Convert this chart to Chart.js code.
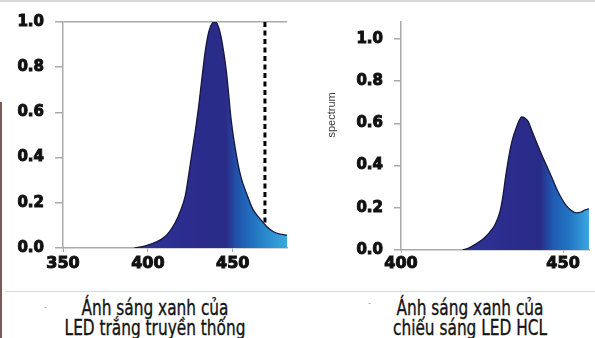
<!DOCTYPE html>
<html>
<head>
<meta charset="utf-8">
<script src="https://cdn.jsdelivr.net/npm/chart.js@4.4.1/dist/chart.umd.min.js"></script>
<style>
  html, body { margin: 0; padding: 0; }
  body { width: 595px; height: 338px; position: relative; overflow: hidden; background: #fff;
         border-top: 2px solid #d6d6d6; box-sizing: border-box; }
  .edge { position: absolute; left: 0; top: 100px; width: 2px; height: 238px; background: #7a5a58; }
  .plot { position: absolute; top: 0; height: 285px; }
  #left { left: 0; width: 300px; }
  #right { left: 300px; width: 295px; }
  .rule { position: absolute; left: 5px; right: 0; top: 289px; height: 1px; background: #d3d9e4; }
  .cap { position: absolute; top: 296px; width: 300px; margin-left: -150px; text-align: center; color: #141414;
         font-size: 22px; line-height: 20px; white-space: nowrap; transform-origin: 50% 0;
         -webkit-text-stroke: 0.35px #141414; }
  #capLeft { left: 155px; }
  #capRight { left: 470px; }
  .dot { position: absolute; color: #9a9a9a; font: 9px "Liberation Sans", sans-serif; }
</style>
</head>
<body>
<div class="edge"></div>
<div class="plot" id="left"><canvas id="leftChart" width="300" height="285"></canvas></div>
<div class="plot" id="right"><canvas id="rightChart" width="295" height="285"></canvas></div>
<div class="rule"></div>
<span class="dot" style="left:44px;top:300px">-</span>
<span class="dot" style="left:368px;top:296px">-</span>
<div class="cap" id="capLeft"></div>
<div class="cap" id="capRight"></div>
<script>
// white LED spectrum (nm, relative)
const leftWavelengths = [392, 396, 400, 405, 410, 413, 416, 419, 422, 424, 426, 428, 430, 432, 434, 436, 438, 439.5, 441, 443, 446.3, 449.2, 452.2, 455, 458, 462, 466, 470, 474, 478, 482];
const leftSpectrum    = [0, 0.005, 0.013, 0.027, 0.05, 0.075, 0.11, 0.16, 0.23, 0.32, 0.42, 0.52, 0.63, 0.76, 0.88, 0.96, 0.995, 1.0, 0.99, 0.94, 0.78, 0.56, 0.41, 0.31, 0.245, 0.17, 0.13, 0.095, 0.072, 0.061, 0.057];

// HCL LED spectrum
const rightWavelengths = [419, 421, 423.3, 425.5, 427.4, 429, 430.5, 431.5, 432.3, 433.6, 434.5, 435.6, 436.5, 437.2, 438.2, 439.2, 440.5, 441.8, 443.3, 444.9, 446.5, 448, 449.5, 451, 452.5, 454.1, 455.6, 456.8, 458];
const rightSpectrum    = [0, 0.01, 0.03, 0.055, 0.085, 0.12, 0.18, 0.26, 0.35, 0.47, 0.53, 0.58, 0.615, 0.63, 0.625, 0.61, 0.56, 0.51, 0.455, 0.40, 0.345, 0.29, 0.245, 0.21, 0.188, 0.176, 0.18, 0.19, 0.195];

// dotted marker on the white LED plot
const cutoffX = [469, 469];
const cutoffY = [1.0, 0.11];

const leftXTicks = [350, 400, 450];
const rightXTicks = [400, 450];
const yTicks = [0, 0.2, 0.4, 0.6, 0.8, 1.0];

const captions = [
  ['Ánh sáng xanh của', 'LED trắng truyền thống'],
  ['Ánh sáng xanh của', 'chiếu sáng LED HCL']
];

// captions use a narrow face, stretched to a fixed first-line width
const capFamily = '"Liberation Sans Narrow", "DejaVu Sans Condensed", "Noto Sans", sans-serif';
const measure = document.createElement('canvas').getContext('2d');
measure.font = '22px ' + capFamily;
const capScale = 147 / measure.measureText(captions[0][0]).width;
['capLeft', 'capRight'].forEach((id, i) => {
  const el = document.getElementById(id);
  el.style.fontFamily = capFamily;
  el.style.transform = 'scaleX(' + capScale + ')';
  el.innerHTML = captions[i].join('<br>');
});

const axisGrey = '#a9a9a9';

function points(xs, ys) {
  return xs.map((x, i) => ({ x: x, y: ys[i] }));
}

function spectrumFill(stops) {
  return (ctx) => {
    const chart = ctx.chart;
    const area = chart.chartArea;
    if (!area) return '#2a2c88';
    const xs = chart.scales.x;
    const g = chart.ctx.createLinearGradient(area.left, 0, area.right, 0);
    stops.forEach(([nm, color]) => {
      let p = (xs.getPixelForValue(nm) - area.left) / (area.right - area.left);
      g.addColorStop(Math.min(Math.max(p, 0), 1), color);
    });
    return g;
  };
}

function useTicks(values) {
  return (scale) => { scale.ticks = values.map(v => ({ value: v })); };
}

const tickFont = { family: 'DejaVu Sans', weight: 'bold', size: 15 };
const tickText = { color: '#111', textStrokeColor: '#111', textStrokeWidth: 1 };

function spectrumDataset(xs, ys, stops) {
  return {
    data: points(xs, ys),
    borderColor: '#17173f',
    borderWidth: 1.3,
    backgroundColor: spectrumFill(stops),
    fill: 'origin',
    pointRadius: 0,
    cubicInterpolationMode: 'monotone'
  };
}

// white LED
new Chart(document.getElementById('leftChart'), {
  type: 'line',
  data: {
    datasets: [
      spectrumDataset(leftWavelengths, leftSpectrum, [
        [392, '#30339a'], [430, '#2a2b8a'], [446, '#2a2c88'], [452, '#2150a8'],
        [458, '#1f66b9'], [470, '#2a8bcd'], [482, '#3aa9e0']
      ]),
      {
        data: points(cutoffX, cutoffY),
        borderColor: '#000',
        borderWidth: 3,
        borderDash: [5, 3.5],
        fill: false,
        pointRadius: 0
      }
    ]
  },
  options: {
    responsive: false,
    animation: false,
    layout: { padding: { top: 17, right: 13, left: 0, bottom: 0 } },
    plugins: { legend: { display: false }, tooltip: { enabled: false } },
    scales: {
      x: {
        type: 'linear', min: 350, max: 482,
        afterBuildTicks: useTicks(leftXTicks),
        afterFit: (s) => { s.height = 39; },
        border: { color: axisGrey, width: 1.5 },
        grid: { drawOnChartArea: false, tickLength: 4, color: axisGrey },
        ticks: { ...tickText, padding: 2, font: { ...tickFont, size: 16 } }
      },
      y: {
        min: 0, max: 1.0,
        afterBuildTicks: useTicks(yTicks),
        afterFit: (s) => { s.width = 63; },
        border: { color: axisGrey, width: 1.5 },
        grid: {
          tickLength: 8,
          tickColor: axisGrey,
          lineWidth: 1.5,
          color: (c) => (c.tick && c.tick.value === 1 ? axisGrey : 'rgba(0,0,0,0)')
        },
        ticks: { ...tickText, padding: 11, font: tickFont, callback: (v) => v.toFixed(1) }
      }
    }
  }
});

// rotated "spectrum" label beside the HCL axis
const spectrumLabel = {
  id: 'spectrumLabel',
  afterDraw(chart) {
    const c = chart.ctx;
    c.save();
    c.translate(32, chart.scales.y.getPixelForValue(0.64));
    c.rotate(-Math.PI / 2);
    c.font = '11px "Liberation Sans", sans-serif';
    c.fillStyle = '#3a3a3a';
    c.textAlign = 'center';
    c.textBaseline = 'middle';
    c.fillText('spectrum', 0, 0);
    c.restore();
  }
};

// HCL LED
new Chart(document.getElementById('rightChart'), {
  type: 'line',
  data: {
    datasets: [
      spectrumDataset(rightWavelengths, rightSpectrum, [
        [419, '#30339a'], [436, '#2a2b8a'], [443, '#2a2c88'], [447, '#1f5cb3'],
        [452, '#2275c2'], [458, '#3aa9e0']
      ])
    ]
  },
  options: {
    responsive: false,
    animation: false,
    layout: { padding: { top: 18, right: 6, left: 0, bottom: 0 } },
    plugins: { legend: { display: false }, tooltip: { enabled: false } },
    scales: {
      x: {
        type: 'linear', min: 400, max: 458,
        afterBuildTicks: useTicks(rightXTicks),
        afterFit: (s) => { s.height = 37; },
        border: { color: axisGrey, width: 1.5 },
        grid: { drawOnChartArea: false, tickLength: 3, color: axisGrey },
        ticks: { ...tickText, padding: 1, font: { ...tickFont, size: 16 } }
      },
      y: {
        min: 0, max: 1.08,
        afterBuildTicks: useTicks(yTicks),
        afterFit: (s) => { s.width = 101; },
        border: { color: axisGrey, width: 1.5 },
        grid: { drawOnChartArea: false, tickLength: 7, color: axisGrey, lineWidth: 1.5 },
        ticks: { ...tickText, padding: 11, font: tickFont, callback: (v) => v.toFixed(1) }
      }
    }
  },
  plugins: [spectrumLabel]
});
</script>
</body>
</html>
